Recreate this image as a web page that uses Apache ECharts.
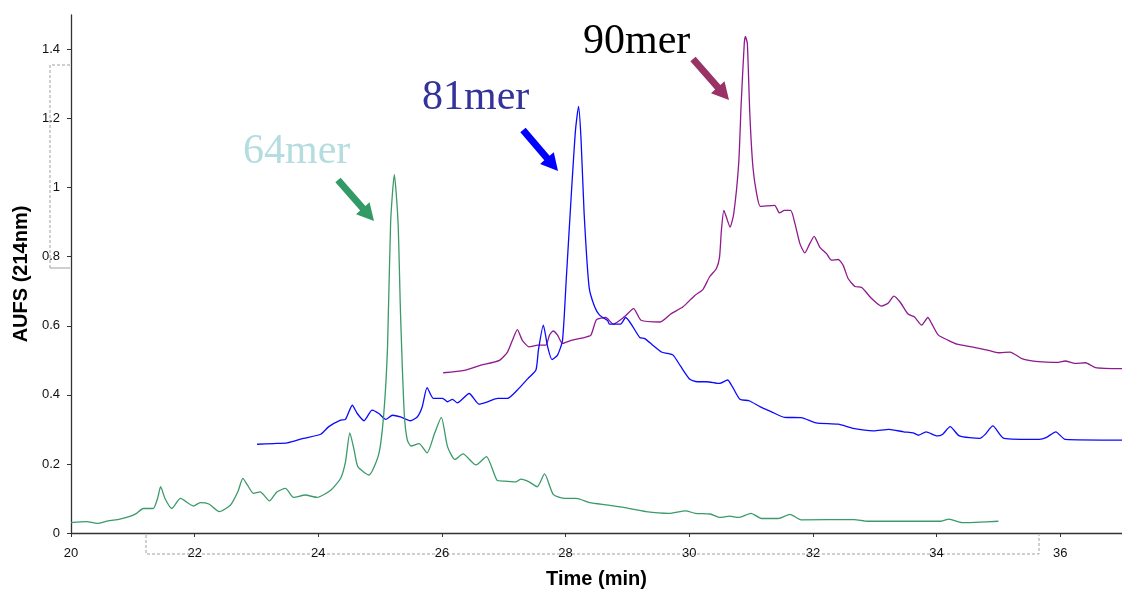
<!DOCTYPE html>
<html>
<head>
<meta charset="utf-8">
<script src="https://cdn.jsdelivr.net/npm/echarts@6/dist/echarts.min.js"></script>
<style>
html,body{margin:0;padding:0;background:#fff;}
#chart{width:1122px;height:594px;}
</style>
</head>
<body>
<div id="chart"></div>
<script>
// ---- data (time in min, absorbance in AUFS) ----
var xTicks = [20, 22, 24, 26, 28, 30, 32, 34, 36];
var yTicks = [0, 0.2, 0.4, 0.6, 0.8, 1, 1.2, 1.4];

var mer64 = [[20.00,0.030],[20.25,0.033],[20.42,0.028],[20.60,0.035],[20.79,0.040],[20.95,0.048],[21.06,0.057],[21.17,0.071],[21.33,0.071],[21.40,0.100],[21.45,0.134],[21.52,0.100],[21.63,0.071],[21.77,0.100],[21.98,0.078],[22.09,0.088],[22.23,0.084],[22.40,0.062],[22.58,0.081],[22.70,0.120],[22.78,0.158],[22.85,0.140],[22.95,0.115],[23.06,0.119],[23.21,0.093],[23.33,0.119],[23.47,0.129],[23.60,0.103],[23.79,0.110],[23.98,0.103],[24.20,0.124],[24.36,0.158],[24.44,0.206],[24.51,0.290],[24.58,0.240],[24.64,0.192],[24.82,0.168],[24.98,0.230],[25.06,0.347],[25.12,0.539],[25.17,0.900],[25.23,1.038],[25.29,0.900],[25.33,0.636],[25.39,0.347],[25.44,0.269],[25.50,0.252],[25.63,0.259],[25.76,0.232],[25.88,0.288],[25.99,0.335],[26.09,0.250],[26.21,0.213],[26.34,0.229],[26.55,0.197],[26.72,0.221],[26.89,0.153],[27.01,0.150],[27.19,0.148],[27.28,0.156],[27.41,0.148],[27.54,0.134],[27.66,0.171],[27.80,0.112],[27.99,0.100],[28.17,0.100],[28.39,0.088],[28.69,0.081],[28.94,0.074],[29.30,0.062],[29.67,0.057],[29.94,0.064],[30.10,0.057],[30.34,0.055],[30.50,0.045],[30.65,0.049],[30.80,0.045],[31.00,0.057],[31.17,0.042],[31.44,0.042],[31.63,0.054],[31.81,0.038],[32.67,0.039],[32.88,0.034],[34.07,0.034],[34.20,0.040],[34.41,0.030],[34.62,0.031],[35.00,0.034]];

var mer81 = [[23.01,0.257],[23.28,0.259],[23.50,0.261],[23.76,0.274],[24.04,0.286],[24.17,0.308],[24.36,0.327],[24.44,0.329],[24.55,0.370],[24.63,0.346],[24.74,0.325],[24.87,0.356],[24.98,0.346],[25.09,0.329],[25.20,0.341],[25.33,0.336],[25.49,0.325],[25.60,0.336],[25.68,0.365],[25.76,0.421],[25.86,0.390],[26.01,0.390],[26.09,0.380],[26.17,0.387],[26.25,0.377],[26.44,0.404],[26.60,0.373],[26.74,0.380],[26.90,0.390],[27.06,0.390],[27.22,0.414],[27.39,0.447],[27.52,0.472],[27.56,0.529],[27.64,0.602],[27.71,0.539],[27.78,0.502],[27.87,0.515],[27.95,0.558],[28.01,0.732],[28.09,0.973],[28.16,1.166],[28.21,1.235],[28.25,1.140],[28.30,0.925],[28.38,0.712],[28.47,0.655],[28.55,0.631],[28.68,0.615],[28.71,0.605],[28.89,0.605],[28.97,0.624],[29.20,0.566],[29.28,0.563],[29.41,0.544],[29.55,0.524],[29.65,0.520],[29.74,0.515],[29.86,0.483],[30.01,0.445],[30.13,0.438],[30.28,0.438],[30.49,0.433],[30.62,0.443],[30.70,0.423],[30.82,0.387],[30.97,0.383],[31.15,0.365],[31.33,0.351],[31.54,0.335],[31.81,0.334],[32.05,0.319],[32.41,0.315],[32.65,0.303],[32.98,0.296],[33.23,0.300],[33.47,0.293],[33.62,0.290],[33.71,0.283],[33.83,0.293],[34.01,0.281],[34.10,0.286],[34.22,0.308],[34.37,0.281],[34.70,0.274],[34.79,0.286],[34.91,0.310],[35.09,0.274],[35.66,0.271],[35.78,0.277],[35.93,0.293],[36.08,0.271],[37.00,0.269]];

var mer90 = [[26.02,0.464],[26.36,0.471],[26.63,0.486],[26.93,0.500],[27.06,0.524],[27.14,0.558],[27.22,0.589],[27.30,0.558],[27.41,0.539],[27.55,0.544],[27.68,0.544],[27.74,0.573],[27.80,0.585],[27.87,0.573],[27.95,0.549],[28.09,0.558],[28.30,0.566],[28.41,0.573],[28.50,0.618],[28.65,0.624],[28.77,0.605],[28.95,0.626],[29.10,0.650],[29.22,0.616],[29.53,0.611],[29.70,0.634],[29.90,0.655],[30.09,0.688],[30.22,0.705],[30.33,0.742],[30.44,0.766],[30.49,0.799],[30.52,0.876],[30.56,0.934],[30.60,0.915],[30.66,0.886],[30.72,0.925],[30.80,1.070],[30.84,1.243],[30.89,1.417],[30.91,1.438],[30.94,1.417],[30.98,1.214],[31.03,1.060],[31.09,0.983],[31.15,0.946],[31.38,0.949],[31.46,0.927],[31.54,0.934],[31.64,0.934],[31.71,0.896],[31.79,0.838],[31.87,0.811],[31.95,0.838],[32.02,0.859],[32.11,0.828],[32.22,0.809],[32.30,0.790],[32.41,0.792],[32.49,0.775],[32.57,0.737],[32.68,0.714],[32.79,0.711],[32.95,0.679],[33.11,0.657],[33.22,0.666],[33.31,0.686],[33.41,0.669],[33.54,0.634],[33.64,0.626],[33.76,0.602],[33.86,0.624],[33.92,0.607],[34.03,0.573],[34.19,0.558],[34.33,0.547],[34.57,0.539],[34.84,0.529],[35.00,0.522],[35.19,0.524],[35.38,0.505],[35.65,0.496],[35.97,0.494],[36.08,0.498],[36.24,0.491],[36.41,0.493],[36.57,0.479],[37.00,0.476]];

var labels = ['64mer', '81mer', '90mer'];
var lineColors = ['#3a9a6a', '#0a0aff', '#8e1a8e'];
var textColors = ['#b5dde0', '#333399', '#000000'];
var arrowColors = ['#339966', '#0000ff', '#993366'];

// ---- annotation helpers (decorations, pixel space) ----
function arrow(x0, y0, x1, y1, color) {
  var dx = x1 - x0, dy = y1 - y0, L = Math.sqrt(dx*dx + dy*dy);
  var ux = dx / L, uy = dy / L, nx = -uy, ny = ux;
  var sw = 3.5, hw = 9, hl = 17;
  var bx = x1 - ux*hl, by = y1 - uy*hl;
  return {
    type: 'polygon', silent: true,
    shape: { points: [
      [x0 + nx*sw, y0 + ny*sw], [bx + nx*sw, by + ny*sw], [bx + nx*hw, by + ny*hw],
      [x1, y1], [bx - nx*hw, by - ny*hw], [bx - nx*sw, by - ny*sw], [x0 - nx*sw, y0 - ny*sw]
    ]},
    style: { fill: color }
  };
}
function label(text, x, y, color) {
  return { type: 'text', silent: true, x: x, y: y,
    style: { text: text, fill: color, font: '42px "Liberation Serif", "Times New Roman", serif',
      textAlign: 'left', textVerticalAlign: 'middle' } };
}
function dashed(points, solid) {
  return { type: 'polyline', silent: true, shape: { points: points },
    style: { stroke: '#a0a0a0', lineWidth: 1, lineDash: solid ? null : [3, 2], fill: null } };
}

var chart = echarts.init(document.getElementById('chart'), null, { renderer: 'canvas' });
var font = 'Arial, "Liberation Sans", sans-serif';

var option = {
  animation: false,
  backgroundColor: '#ffffff',
  grid: { left: 71, right: 0, top: 15, bottom: 60, containLabel: false },
  xAxis: {
    type: 'value', min: 20, max: 37, interval: 2,
    name: 'Time (min)', nameLocation: 'middle', nameGap: 36,
    nameTextStyle: { fontFamily: font, fontWeight: 'bold', fontSize: 20, color: '#000' },
    axisLine: { lineStyle: { color: '#333', width: 1.3 } },
    axisTick: { show: true, length: 4, lineStyle: { color: '#333' }, customValues: xTicks },
    axisLabel: { fontFamily: font, fontSize: 13, color: '#111', margin: 14, customValues: xTicks },
    splitLine: { show: false }
  },
  yAxis: {
    type: 'value', min: 0, max: 1.5, interval: 0.1,
    name: 'AUFS (214nm)', nameLocation: 'middle', nameGap: 34, nameRotate: 90,
    nameTextStyle: { fontFamily: font, fontWeight: 'bold', fontSize: 20, color: '#000' },
    axisLine: { show: true, lineStyle: { color: '#333', width: 1.3 } },
    axisTick: { show: true, length: 4, lineStyle: { color: '#333' }, customValues: yTicks },
    axisLabel: { fontFamily: font, fontSize: 13, color: '#111', margin: 11, customValues: yTicks },
    splitLine: { show: false }
  },
  series: [mer64, mer81, mer90].map(function (d, i) {
    return {
      name: labels[i], type: 'line', data: d, showSymbol: false, smooth: 0.2,
      lineStyle: { color: lineColors[i], width: 1.3 }, z: 3 - i
    };
  }),
  graphic: [
    dashed([[70, 65], [50, 65], [50, 268]]),
    dashed([[50, 268], [70, 268]], true),
    dashed([[146, 535], [146, 554], [1039, 554], [1039, 535]]),
    label(labels[0], 243, 152, textColors[0]),
    label(labels[1], 422, 98, textColors[1]),
    label(labels[2], 583, 42, textColors[2]),
    arrow(338, 180, 374, 221, arrowColors[0]),
    arrow(523, 130, 558, 171, arrowColors[1]),
    arrow(693, 59, 729, 100, arrowColors[2])
  ]
};
chart.setOption(option);
</script>
</body>
</html>
